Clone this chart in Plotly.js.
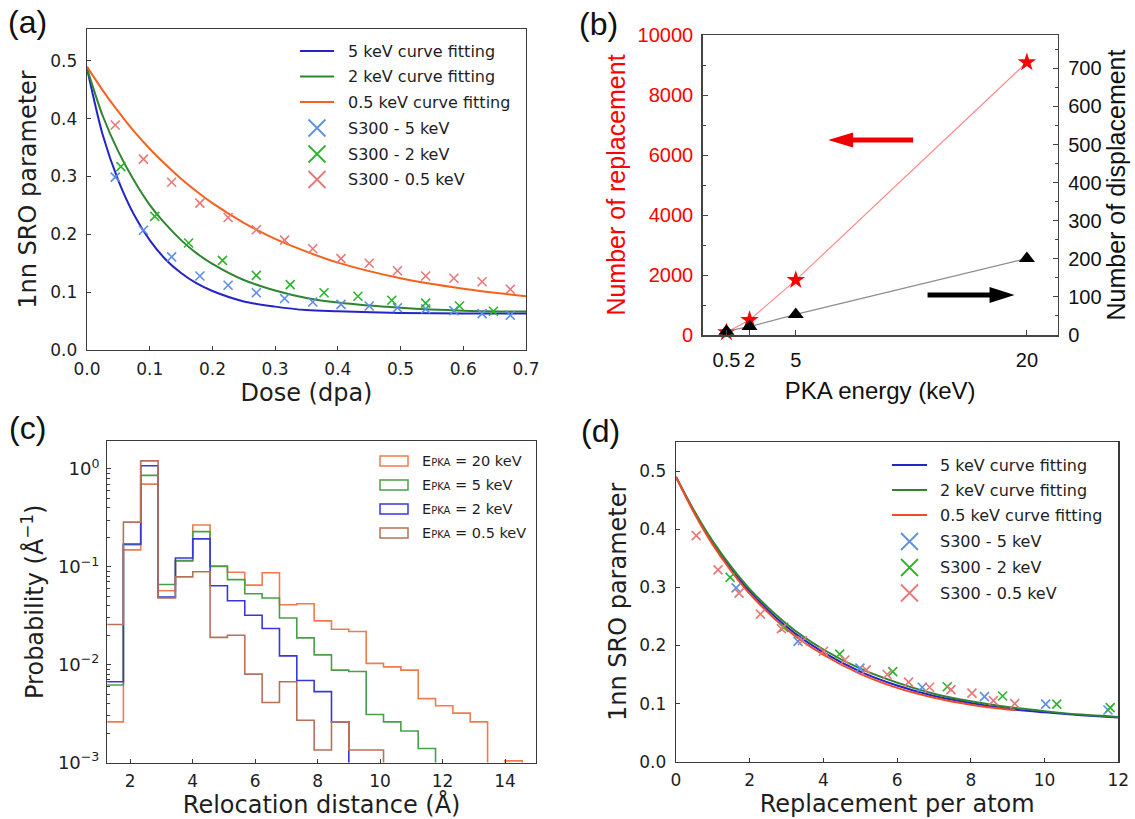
<!DOCTYPE html>
<html><head><meta charset="utf-8">
<script src="https://cdn.plot.ly/plotly-3.0.1.min.js"></script>
<style>html,body{margin:0;padding:0;background:#fff}#chart{width:1135px;height:819px}</style>
</head><body><div id="chart"></div>
<script>
// ---------- Panel (a): SRO vs dose ----------
const fitDose = [0,0.025,0.05,0.075,0.1,0.125,0.15,0.175,0.2,0.25,0.3,0.35,0.4,0.5,0.6,0.7];
const fit5a  = [0.487,0.372,0.293,0.234,0.190,0.157,0.133,0.115,0.102,0.084,0.075,0.069,0.067,0.064,0.063,0.063];
const fit2a  = [0.487,0.405,0.343,0.293,0.251,0.218,0.190,0.167,0.149,0.121,0.103,0.090,0.082,0.073,0.068,0.0665];
const fit05a = [0.490,0.449,0.412,0.378,0.348,0.321,0.296,0.274,0.254,0.220,0.192,0.170,0.151,0.124,0.106,0.093];

const dose5  = [0.045,0.09,0.135,0.18,0.225,0.27,0.315,0.36,0.405,0.45,0.495,0.54,0.585,0.63,0.675];
const sro5   = [0.299,0.207,0.161,0.128,0.112,0.099,0.089,0.083,0.079,0.076,0.073,0.071,0.068,0.063,0.060];
const rpa5   = [1.63,3.31,4.99,6.68,8.37,10.03,11.72,13.4,15.1,16.8,18.5,20.1,21.8,23.5,25.2];

const dose2  = [0.054,0.108,0.162,0.216,0.27,0.324,0.378,0.432,0.486,0.54,0.594,0.648];
const sro2   = [0.317,0.231,0.185,0.155,0.129,0.113,0.099,0.093,0.086,0.081,0.076,0.067];
const rpa2   = [1.47,2.92,4.44,5.88,7.36,8.86,10.33,11.78,13.25,14.7,16.2,17.65];

const dose05 = [0.045,0.09,0.135,0.18,0.225,0.27,0.315,0.36,0.405,0.45,0.495,0.54,0.585,0.63,0.675,0.72];
const sro05  = [0.389,0.330,0.290,0.254,0.229,0.208,0.190,0.175,0.158,0.150,0.137,0.128,0.124,0.118,0.105,0.100];
const rpa05  = [0.55,1.14,1.71,2.29,2.86,3.43,4.0,4.58,5.16,5.73,6.31,6.88,7.46,8.03,8.61,9.19];

// ---------- Panel (b): replacements / displacements ----------
const pkaEnergy     = [0.5,2,5,20];
const replacements  = [90,500,1830,9090];
const displacements = [10,22,54,201];
const pkaTickText   = ['0.5','2','5','20'];

// ---------- Panel (c): relocation distance histograms ----------
const binEdges = [1.23,1.785,2.34,2.895,3.45,4.005,4.56,5.115,5.67,6.225,6.78,7.335,7.89,8.445,9.0,9.555,10.11,10.665,11.22,11.775,12.33,12.885,13.44,13.995,14.55];
const hist20  = [0.0026,0.149,0.70,0.057,0.114,0.268,0.102,0.088,0.065,0.087,0.041,0.042,0.028,0.023,0.0218,0.0103,0.0095,0.0088,0.0045,0.0038,0.0032,0.0026,0,0.00104];
const hist5   = [0.0062,0.168,0.86,0.066,0.116,0.229,0.101,0.074,0.053,0.048,0.030,0.0188,0.0126,0.0088,0.0085,0.0031,0.0026,0.0021,0.00139,0,0,0,0,0];
const hist2   = [0.0067,0.171,1.08,0.049,0.123,0.193,0.064,0.045,0.032,0.0234,0.0123,0.0069,0.0053,0.0026,0,0,0,0,0,0,0,0,0,0];
const hist05  = [0.0257,0.286,1.21,0.048,0.079,0.089,0.019,0.020,0.0080,0.0041,0.0067,0.0027,0.00134,0.0026,0.00134,0.00134,0,0,0,0,0,0,0,0];
const histLabels = ['20 keV','5 keV','2 keV','0.5 keV'];

// ---------- Panel (d): SRO vs replacement per atom ----------
const fitRpa  = [0,0.5,1,1.5,2,3,4,5,6,7,8,9,10,11,12];
const fit5d   = [0.49,0.429,0.376,0.331,0.293,0.232,0.188,0.155,0.131,0.113,0.101,0.091,0.085,0.080,0.076];
const fit2d   = [0.49,0.431,0.379,0.335,0.297,0.237,0.193,0.160,0.136,0.117,0.104,0.094,0.087,0.081,0.077];
const fitRpa05= [0,0.5,1,1.5,2,3,4,5,6,7,8,9,9.2];
const fit05d  = [0.49,0.427,0.373,0.328,0.289,0.228,0.184,0.151,0.127,0.110,0.098,0.090,0.089];

const curveNames  = ['5 keV curve fitting','2 keV curve fitting','0.5 keV curve fitting'];
const markerNames = ['S300 - 5 keV','S300 - 2 keV','S300 - 0.5 keV'];

// ---------- styling ----------
const W = 1135, H = 819;
const px = v => v / W;
const py = v => 1 - v / H;
const DJ = 'DejaVu Sans, sans-serif';
const AR = 'Liberation Sans, Arial, sans-serif';
const TXT = '#1e1e1e';
const C = {
  blueL:'#2424c8', greenL:'#2e8530', orangeL:'#f5621e', redL:'#f24a28',
  blueM:'#5b8ee6', greenM:'#2cb42c', pinkM:'#e97777',
  h20:'#f07c4c', h5:'#4a9e4a', h2:'#3838d8', h05:'#b8705a'
};

function line(x, y, color, xa, ya){
  return {x, y, mode:'lines', line:{color, width:2, shape:'spline', smoothing:0.8}, xaxis:xa, yaxis:ya, showlegend:false, hoverinfo:'skip'};
}
function marks(x, y, color, xa, ya){
  return {x, y, mode:'markers', marker:{symbol:'x-thin', size:9, color, line:{color, width:1.6}}, xaxis:xa, yaxis:ya, showlegend:false, hoverinfo:'skip'};
}
function stepTrace(edges, vals, color){
  const floor = 1e-6;
  const xs = [edges[0]], ys = [floor];
  vals.forEach((v,i)=>{ xs.push(edges[i]); ys.push(v>0?v:floor); });
  const last = vals[vals.length-1];
  xs.push(edges[edges.length-1]); ys.push(last>0?last:floor);
  xs.push(edges[edges.length-1]); ys.push(floor);
  return {x:xs, y:ys, mode:'lines', line:{color, width:1.6, shape:'hv'}, xaxis:'x3', yaxis:'y3', showlegend:false, hoverinfo:'skip'};
}

const data = [
  // (a)
  line(fitDose, fit5a, C.blueL, 'x', 'y'),
  line(fitDose, fit2a, C.greenL, 'x', 'y'),
  line(fitDose, fit05a, C.orangeL, 'x', 'y'),
  marks(dose5, sro5, C.blueM, 'x', 'y'),
  marks(dose2, sro2, C.greenM, 'x', 'y'),
  marks(dose05, sro05, C.pinkM, 'x', 'y'),
  // (b)
  {x:pkaEnergy, y:replacements, mode:'lines+markers', line:{color:'#ff8a8a', width:1.2},
   marker:{symbol:'star', size:14, color:'#ff0000'}, xaxis:'x2', yaxis:'y2', cliponaxis:false, showlegend:false},
  {x:pkaEnergy, y:displacements, mode:'lines+markers', line:{color:'#8c8c8c', width:1.3},
   marker:{symbol:'triangle-up', size:14, color:'#000'}, xaxis:'x2', yaxis:'y5', cliponaxis:false, showlegend:false},
  // (c)
  stepTrace(binEdges, hist20, C.h20),
  stepTrace(binEdges, hist5, C.h5),
  stepTrace(binEdges, hist2, C.h2),
  stepTrace(binEdges, hist05, C.h05),
  // (d)
  line(fitRpa, fit5d, C.blueL, 'x4', 'y4'),
  line(fitRpa, fit2d, C.greenL, 'x4', 'y4'),
  line(fitRpa05, fit05d, C.redL, 'x4', 'y4'),
  marks(rpa5, sro5, C.blueM, 'x4', 'y4'),
  marks(rpa2, sro2, C.greenM, 'x4', 'y4'),
  marks(rpa05, sro05, C.pinkM, 'x4', 'y4')
];

function mpl(extra){
  return Object.assign({showgrid:false, zeroline:false, showline:true, mirror:true,
    linecolor:'#3a3a3a', linewidth:1.3, ticks:'inside', ticklen:4, tickwidth:1, tickcolor:'#3a3a3a',
    tickfont:{family:DJ, size:17, color:TXT}, automargin:false}, extra);
}
function ttl(text, standoff, font){ return {text, standoff, font:Object.assign({family:DJ, size:24, color:TXT}, font||{})}; }

const layout = {
  width:W, height:H, margin:{l:0,r:0,t:0,b:0}, paper_bgcolor:'#fff', plot_bgcolor:'#fff', showlegend:false,
  // (a)
  xaxis: mpl({domain:[px(87),px(526)], range:[0,0.7], dtick:0.1, tick0:0, tickformat:'.1f', anchor:'y',
    ticklabelstandoff:3, title:ttl('Dose (dpa)',6)}),
  yaxis: mpl({domain:[py(350),py(29)], range:[0,0.555], dtick:0.1, tick0:0, tickformat:'.1f', anchor:'x',
    ticklabelstandoff:5, title:ttl('1nn SRO parameter',7)}),
  // (b)
  xaxis2: {domain:[px(702.7),px(1057.7)], range:[-1.04,22.0], tickvals:pkaEnergy, ticktext:pkaTickText, anchor:'y2',
    showgrid:false, zeroline:false, showline:true, mirror:true, linecolor:'#444', linewidth:1.5,
    ticks:'inside', ticklen:5, tickcolor:'#444', ticklabelstandoff:6,
    tickfont:{family:AR, size:20, color:'#111'}, automargin:false,
    title:{text:'PKA energy (keV)', standoff:12, font:{family:AR, size:24, color:'#111'}}},
  yaxis2: {domain:[py(335),py(35)], range:[0,10000], dtick:2000, tickformat:'d', anchor:'x2',
    showgrid:false, zeroline:false, showline:true, linecolor:'#444', linewidth:1.5,
    ticks:'inside', ticklen:5, tickcolor:'#444', ticklabelstandoff:4,
    minor:{ticks:'inside', ticklen:3, dtick:1000, tickcolor:'#444'},
    tickfont:{family:AR, size:20, color:'#ff0000'}, automargin:false,
    title:{text:'Number of replacement', standoff:5, font:{family:AR, size:25, color:'#ff0000'}}},
  yaxis5: {overlaying:'y2', side:'right', anchor:'x2', range:[0,787.5], dtick:100, tickformat:'d',
    showgrid:false, zeroline:false, showline:true, linecolor:'#444', linewidth:1.5,
    ticks:'inside', ticklen:5, tickcolor:'#444', ticklabelstandoff:5,
    minor:{ticks:'inside', ticklen:3, dtick:50, tickcolor:'#444'},
    tickfont:{family:AR, size:20, color:'#111'}, automargin:false,
    title:{text:'Number of displacement', standoff:5, font:{family:AR, size:25, color:'#111'}}},
  // (c)
  xaxis3: mpl({domain:[px(107.3),px(536)], range:[1.27,14.99], dtick:2, tick0:0, anchor:'y3',
    ticklabelstandoff:3, title:ttl('Relocation distance (Å)',4)}),
  yaxis3: mpl({domain:[py(762.5),py(441)], type:'log', range:[-3,0.286], anchor:'x3',
    tickvals:[0.001,0.01,0.1,1], ticktext:['10<sup>−3</sup>','10<sup>−2</sup>','10<sup>−1</sup>','10<sup>0</sup>'],
    tickfont:{family:DJ, size:18, color:TXT}, ticklabelstandoff:3,
    minor:{ticks:'inside', ticklen:2.5, dtick:'D1', tickcolor:'#3a3a3a'},
    title:ttl('Probability (Å<sup>−1</sup>)',7)}),
  // (d)
  xaxis4: mpl({domain:[px(676),px(1118.3)], range:[0,12], dtick:2, tick0:0, anchor:'y4',
    ticklabelstandoff:3, title:ttl('Replacement per atom',5)}),
  yaxis4: mpl({domain:[py(761.7),py(442)], range:[0,0.55], dtick:0.1, tick0:0, tickformat:'.1f', anchor:'x4',
    ticklabelstandoff:5, title:ttl('1nn SRO parameter',5)}),
  shapes: [],
  annotations: []
};

// panel letters
[['(a)',27,22],['(b)',598,24],['(c)',27,428],['(d)',600,431]].forEach(([t,x,y])=>{
  layout.annotations.push({xref:'paper', yref:'paper', x:px(x), y:py(y), text:t, showarrow:false,
    xanchor:'center', yanchor:'middle', font:{family:AR, size:32, color:'#111'}});
});

// arrows in (b)
layout.shapes.push({type:'path', xref:'x2', yref:'y2', xsizemode:'pixel', ysizemode:'pixel', xanchor:7.1, yanchor:6500,
  path:'M0,0 L25,7.5 L25,2.6 L85,2.6 L85,-2.6 L25,-2.6 L25,-7.5 Z', fillcolor:'#ee0000', line:{width:0}});
layout.shapes.push({type:'path', xref:'x2', yref:'y2', xsizemode:'pixel', ysizemode:'pixel', xanchor:19.2, yanchor:1333,
  path:'M0,0 L-25,8 L-25,2.6 L-87,2.6 L-87,-2.6 L-25,-2.6 L-25,-8 Z', fillcolor:'#000', line:{width:0}});

// manual legends for (a) and (d)
function fitLegend(lineX0, lineX1, mkX, textX, rows, lineColors){
  const mkColors = [C.blueM, C.greenM, C.pinkM];
  curveNames.forEach((name,i)=>{
    const y = rows[i];
    layout.shapes.push({type:'line', xref:'paper', yref:'paper', x0:px(lineX0), x1:px(lineX1), y0:py(y), y1:py(y),
      line:{color:lineColors[i], width:2}});
    layout.annotations.push({xref:'paper', yref:'paper', x:px(textX), y:py(y), text:name, showarrow:false,
      xanchor:'left', yanchor:'middle', font:{family:DJ, size:16, color:TXT}});
  });
  markerNames.forEach((name,i)=>{
    const y = rows[i+3], s = 8.5;
    layout.shapes.push({type:'path', xref:'paper', yref:'paper',
      path:`M${px(mkX-s)},${py(y-s)} L${px(mkX+s)},${py(y+s)} M${px(mkX-s)},${py(y+s)} L${px(mkX+s)},${py(y-s)}`,
      line:{color:mkColors[i], width:1.8}});
    layout.annotations.push({xref:'paper', yref:'paper', x:px(textX), y:py(y), text:name, showarrow:false,
      xanchor:'left', yanchor:'middle', font:{family:DJ, size:16, color:TXT}});
  });
}
fitLegend(300, 334, 317, 346, [51,76.5,102,128,154,179.5], [C.blueL, C.greenL, C.orangeL]);
fitLegend(892, 927, 909.5, 938, [465,490,515,541.5,567.5,593], [C.blueL, C.greenL, C.redL]);

// manual legend for (c)
[C.h20, C.h5, C.h2, C.h05].forEach((col,i)=>{
  const y = 461 + 24*i;
  layout.shapes.push({type:'rect', xref:'paper', yref:'paper', x0:px(380), x1:px(408), y0:py(y-5), y1:py(y+5),
    line:{color:col, width:1.5}, fillcolor:'rgba(0,0,0,0)'});
  layout.annotations.push({xref:'paper', yref:'paper', x:px(420), y:py(y), showarrow:false, xanchor:'left', yanchor:'middle',
    text:'E<span style="font-size:10px">PKA</span> = ' + histLabels[i], font:{family:DJ, size:14.5, color:TXT}});
});

Plotly.newPlot('chart', data, layout, {displayModeBar:false, staticPlot:true});
</script></body></html>
